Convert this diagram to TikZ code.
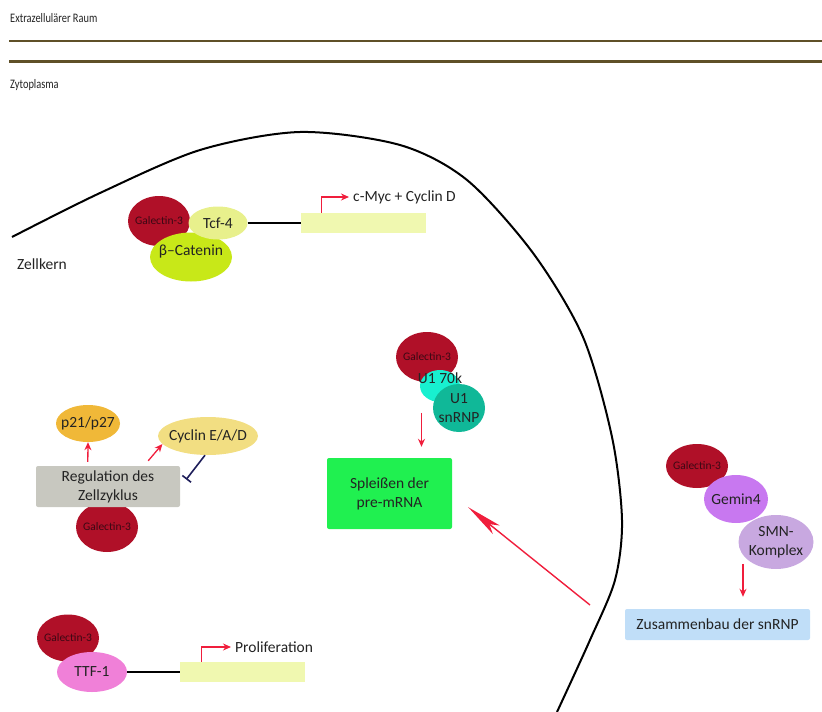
\documentclass[tikz,border=0pt]{standalone}
\usepackage{fontspec}
\setmainfont{Carlito}
\newfontfamily\narrowfont[FakeStretch=0.8]{Carlito}
\usetikzlibrary{
  shapes,       % Shape "ellipse"
  arrows.meta,
  positioning,  % Function "of" (e.g. [right=of x])
}
\definecolor{galred}{RGB}{176,16,40}
\definecolor{galtext}{RGB}{60,8,20}
\definecolor{textgrey}{RGB}{35,35,35}
\definecolor{tcfcol}{RGB}{232,240,140}
\definecolor{catcol}{RGB}{200,232,24}
\definecolor{genecol}{RGB}{240,248,176}
\definecolor{p21col}{RGB}{240,184,56}
\definecolor{cyccol}{RGB}{242,222,130}
\definecolor{regcol}{RGB}{200,200,192}
\definecolor{u1kcol}{RGB}{24,240,208}
\definecolor{rnpcol}{RGB}{16,184,152}
\definecolor{splcol}{RGB}{32,240,80}
\definecolor{gemcol}{RGB}{200,120,240}
\definecolor{smncol}{RGB}{200,168,224}
\definecolor{zuscol}{RGB}{192,222,248}
\definecolor{ttfcol}{RGB}{240,128,216}
\definecolor{actred}{RGB}{240,30,60}
\definecolor{inhblue}{RGB}{30,30,90}
\definecolor{memdark}{RGB}{95,80,40}
\def\mylinkdist{53pt}
\tikzset{
  font=\fontsize{15.5}{19}\selectfont,
  >={Stealth[length=8pt,width=7pt]},
  txt/.style={
    text=textgrey,
    inner sep=0pt
  },
  region/.style={
    txt,
    anchor=base west,
    font=\narrowfont\fontsize{13}{15}\selectfont
  },
  every label/.style={
    text=textgrey,
    inner sep=0pt,
    align=center
  },
  my blob/.style={
    ellipse,
    draw=none,
    inner sep=0pt
  },
  galectin/.style={
    my blob,
    fill=galred,
    minimum width=62pt,
    minimum height=50pt,
    label={[font=\fontsize{11.5}{13}\selectfont, text=galtext]center:Galectin-3}
  },
  gene/.style={
    rectangle,
    fill=genecol,
    minimum width=125pt,
    minimum height=20pt,
    inner sep=0pt
  },
  my box/.style={
    rectangle,
    rounded corners=2pt,
    inner sep=0pt,
    align=center,
    text=textgrey
  },
  act/.style={
    ->,
    draw=actred,
    line width=1.3pt
  },
  long act/.style={
    -{Stealth[length=36pt,width=11pt,inset=9pt]},
    draw=actred,
    line width=1.4pt
  },
  inhib/.style={
    -{Bar[width=11pt]},
    draw=inhblue,
    line width=1.6pt
  },
  link/.style={
    draw=black,
    line width=2pt
  },
  membrane/.style={
    draw=memdark,
    line width=2.6pt
  },
  nucleus/.style={
    draw=black,
    line width=2pt
  }
}

\begin{document}
\begin{tikzpicture}[x=1pt,y=-1pt]
\useasboundingbox (0,0) rectangle (822,712);
% compartments
\node[region] (extra) at (10,23) {Extrazellulärer Raum};
\draw[membrane] (9,41) -- (822,41);
\draw[membrane] (9,61.5) -- (822,61.5);
\node[region] (cyto) at (10,88.5) {Zytoplasma};
\draw[nucleus] plot[smooth] coordinates {(12,237) (100,193) (200,150) (300,132) (400,145)
  (467,180) (533,253) (583,337) (612,437) (622,520) (615,580) (590,640) (557,712)};
\node[txt, anchor=base west] (kern) at (17,269) {Zellkern};
% Wnt signalling
\node[galectin] (gal1) at (159,221) {};
\node[my blob, fill=catcol, minimum width=82pt, minimum height=49pt,
  label={[yshift=5pt]center:β–Catenin}] (bcat) at (191,257) {};
\node[my blob, fill=tcfcol, minimum width=59pt, minimum height=33pt,
  label={center:Tcf-4}] (tcf) at (218,223) {};
\node[gene, right=\mylinkdist of tcf] (gene1) {};
\draw[link] (tcf) -- (gene1);
\node[txt, anchor=west, inner sep=4pt] (myc) at (349,197) {c-Myc + Cyclin D};
\draw[act] ([xshift=21pt]gene1.north west) |- (myc.west);
% cell cycle
\node[galectin] (gal2) at (107,527) {};
\node[my box, fill=regcol, minimum width=144pt, minimum height=41pt] (reg) at (108,486.5) {Regulation des\\Zellzyklus};
\node[my blob, fill=p21col, minimum width=64pt, minimum height=37pt,
  label={center:p21/p27}] (p21) at (88,423.5) {};
\node[my blob, fill=cyccol, minimum width=100pt, minimum height=38pt,
  label={center:Cyclin E/A/D}] (cyc) at (208,436) {};
\draw[act] ([shift={(52pt,4pt)}]reg.north west) -- (p21.south);
\draw[act] ([shift={(-32pt,5pt)}]reg.north east) -- (cyc.190);
\draw[inhib] ([xshift=-3pt]cyc.south) -- ([shift={(6pt,7pt)}]reg.east);
% splicing
\node[galectin] (gal3) at (427,357) {};
\node[my blob, fill=u1kcol, minimum width=40pt, minimum height=32pt] (u1k) at (440,386) {};
\node[my blob, fill=rnpcol, minimum width=52pt, minimum height=48pt,
  label={center:U1\\snRNP}] (rnp) at (459,408) {};
\node[txt] (u1klab) at (440,378) {U1 70k};
\node[my box, fill=splcol, minimum width=125pt, minimum height=71pt] (spl) at (389.5,493.5) {Spleißen der\\pre-mRNA};
\draw[act] ([shift={(32pt,45pt)}]spl.north) -- ([shift={(32pt,11pt)}]spl.north);
\coordinate (exit) at (590,605);
\draw[long act] (exit) -- ([shift={(16pt,22pt)}]spl.south east);
% snRNP assembly
\node[galectin, minimum height=44pt] (gal4) at (697,466) {};
\node[my blob, fill=gemcol, minimum width=64pt, minimum height=48pt,
  label={center:Gemin4}] (gem) at (736,499) {};
\node[my blob, fill=smncol, minimum width=75pt, minimum height=54pt,
  label={center:SMN-\\Komplex}] (smn) at (776,542) {};
\node[my box, fill=zuscol, minimum width=185pt, minimum height=31pt] (zus) at (717.5,624.5) {Zusammenbau der snRNP};
\draw[act] ([shift={(25.5pt,45pt)}]zus.north) -- ([shift={(25.5pt,12pt)}]zus.north);
% proliferation
\node[galectin, minimum height=47pt] (gal5) at (68,638) {};
\node[my blob, fill=ttfcol, minimum width=70pt, minimum height=40pt,
  label={center:TTF-1}] (ttf) at (92,672) {};
\node[gene, right=\mylinkdist of ttf] (gene2) {};
\draw[link] (ttf) -- (gene2);
\node[txt, anchor=west, inner sep=4pt] (prolif) at (231,647) {Proliferation};
\draw[act] ([xshift=21pt]gene2.north west) |- (prolif.west);
\end{tikzpicture}
\end{document}
